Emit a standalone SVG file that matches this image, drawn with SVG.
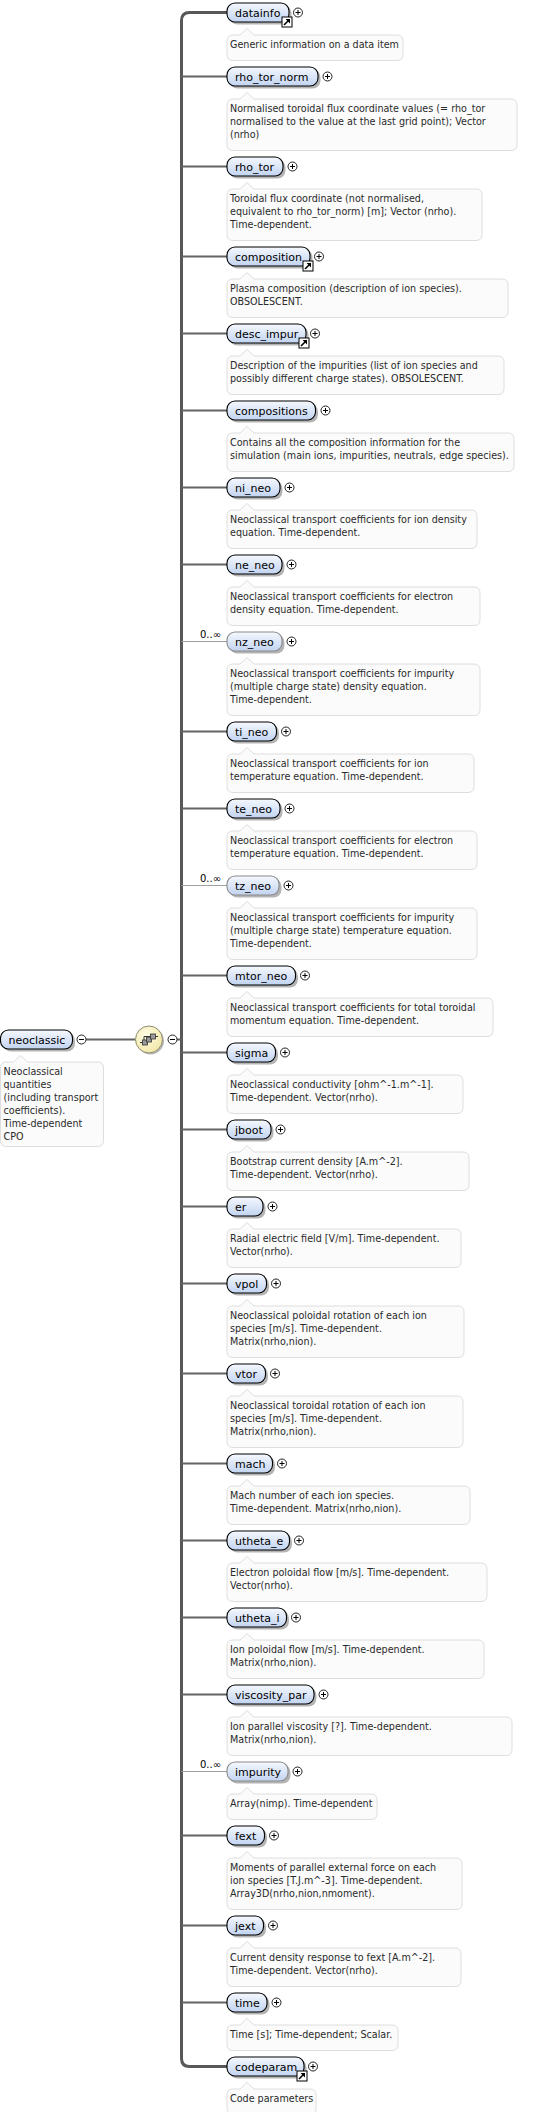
<svg xmlns="http://www.w3.org/2000/svg" width="541" height="2112" viewBox="0 0 541 2112">
<defs>
<linearGradient id="g" x1="0" y1="0" x2="0" y2="1">
<stop offset="0" stop-color="#f5f8fe"/>
<stop offset="1" stop-color="#c2d4f1"/>
</linearGradient>
<radialGradient id="yg" cx="0.4" cy="0.35" r="0.7">
<stop offset="0" stop-color="#fffde6"/>
<stop offset="1" stop-color="#f1e6a6"/>
</radialGradient>
<g id="plus"><circle r="4.5" fill="#fff" stroke="#222" stroke-width="1"/><path d="M-2.5 0H2.5M0 -2.5V2.5" stroke="#000" stroke-width="1"/></g>
<g id="minus"><circle r="4.5" fill="#fff" stroke="#222" stroke-width="1"/><path d="M-2.5 0H2.5" stroke="#000" stroke-width="1"/></g>
<g id="link"><rect x="0.5" y="0.5" width="10" height="10" fill="#fff" stroke="#000" stroke-width="1"/><path d="M2.5 8.5L7 4" stroke="#000" stroke-width="1.6"/><path d="M4 2.5H8.5V7Z" fill="#000"/></g>
</defs>
<style>
.sh{fill:#b4b4b4}
.b{fill:url(#g);stroke:#000;stroke-width:1.1}
.o .b{stroke:#8a8a8a}
.t{font-family:"DejaVu Sans",sans-serif;font-size:11px;fill:#000}
.d{fill:#fbfbfb;stroke:#dedede;stroke-width:1}
.dt{font-family:"DejaVu Sans",sans-serif;font-size:9.6px;fill:#2a2a2a}
.c{font-family:"DejaVu Sans",sans-serif;font-size:10px;fill:#000;text-anchor:end}
.tr{fill:none;stroke:#585858;stroke-width:3}
.br{fill:none;stroke:#646464;stroke-width:2}
.ob{fill:none;stroke:#a0a0a0;stroke-width:1}
</style>

<g id="connectors">
<path class="tr" d="M227 12.5H189.5Q181.5 12.5 181.5 20.5V2058.5Q181.5 2066.5 189.5 2066.5H227"/>
<path class="br" d="M181.5 76.5H227M181.5 166.5H227M181.5 256.5H227M181.5 333.5H227M181.5 410.5H227M181.5 487.5H227M181.5 564.5H227M181.5 731.5H227M181.5 808.5H227M181.5 975.5H227M181.5 1052.5H227M181.5 1129.5H227M181.5 1206.5H227M181.5 1283.5H227M181.5 1373.5H227M181.5 1463.5H227M181.5 1540.5H227M181.5 1617.5H227M181.5 1694.5H227M181.5 1835.5H227M181.5 1925.5H227M181.5 2002.5H227"/>
<path class="ob" d="M181.5 641.5H227M181.5 885.5H227M181.5 1771.5H227"/>
<text class="c" x="221" y="637.5">0..∞</text>
<text class="c" x="221" y="881.5">0..∞</text>
<text class="c" x="221" y="1767.5">0..∞</text>
<path class="br" d="M86 1039.5H135.5M177 1039.5H181.5"/>
</g>

<g id="neoclassic" transform="translate(0.5,1039.5)">
<rect class="sh" x="2.5" y="-7" width="72" height="19" rx="8"/>
<rect class="b" x="0" y="-9.5" width="72" height="19" rx="8"/>
<text class="t" x="8" y="4">neoclassic</text>
<use href="#minus" x="81" y="0"/>
<path class="d" d="M6 22.5H13L20 16L27 22.5H97Q103 22.5 103 28.5V101Q103 107 97 107H6Q0 107 0 101V28.5Q0 22.5 6 22.5Z"/>
<text class="dt" x="3"><tspan x="3" y="35">Neoclassical</tspan><tspan x="3" y="48">quantities</tspan><tspan x="3" y="61">(including transport</tspan><tspan x="3" y="74">coefficients).</tspan><tspan x="3" y="87">Time-dependent</tspan><tspan x="3" y="100">CPO</tspan></text>
</g>

<g id="sequence" transform="translate(149,1039.5)">
<circle cx="1.5" cy="1.5" r="13.5" fill="#b8b8b8"/>
<circle r="13.5" fill="url(#yg)" stroke="#8c8c70" stroke-width="1"/>
<path d="M-9 3H-5M-2 0H2M5 -3H9M-5 3V-3H5" fill="none" stroke="#333" stroke-width="1"/>
<rect x="-6.5" y="0.5" width="5" height="5" fill="#9a9a9a" stroke="#333" stroke-width="0.8"/>
<rect x="-2.5" y="-2.5" width="5" height="5" fill="#9a9a9a" stroke="#333" stroke-width="0.8"/>
<rect x="1.5" y="-5.5" width="5" height="5" fill="#9a9a9a" stroke="#333" stroke-width="0.8"/>
<use href="#minus" x="23.5" y="0"/>
</g>

<g id="datainfo" transform="translate(227,12.5)">
<rect class="sh" x="2.5" y="-7" width="62" height="19" rx="8"/>
<rect class="b" x="0" y="-9.5" width="62" height="19" rx="8"/>
<text class="t" x="8" y="4">datainfo</text>
<use href="#link" x="54.5" y="4"/>
<use href="#plus" x="71" y="0"/>
<path class="d" d="M6 22.5H13L20 16L27 22.5H170Q176 22.5 176 28.5V42Q176 48 170 48H6Q0 48 0 42V28.5Q0 22.5 6 22.5Z"/>
<text class="dt" x="3" y="35">Generic information on a data item</text>
</g>

<g id="rho_tor_norm" transform="translate(227,76.5)">
<rect class="sh" x="2.5" y="-7" width="91" height="19" rx="8"/>
<rect class="b" x="0" y="-9.5" width="91" height="19" rx="8"/>
<text class="t" x="8" y="4">rho_tor_norm</text>
<use href="#plus" x="100.5" y="0"/>
<path class="d" d="M6 22.5H13L20 16L27 22.5H284Q290 22.5 290 28.5V68Q290 74 284 74H6Q0 74 0 68V28.5Q0 22.5 6 22.5Z"/>
<text class="dt"><tspan x="3" y="35">Normalised toroidal flux coordinate values (= rho_tor</tspan><tspan x="3" y="48">normalised to the value at the last grid point); Vector</tspan><tspan x="3" y="61">(nrho)</tspan></text>
</g>

<g id="rho_tor" transform="translate(227,166.5)">
<rect class="sh" x="2.5" y="-7" width="56" height="19" rx="8"/>
<rect class="b" x="0" y="-9.5" width="56" height="19" rx="8"/>
<text class="t" x="8" y="4">rho_tor</text>
<use href="#plus" x="65.5" y="0"/>
<path class="d" d="M6 22.5H13L20 16L27 22.5H249Q255 22.5 255 28.5V68Q255 74 249 74H6Q0 74 0 68V28.5Q0 22.5 6 22.5Z"/>
<text class="dt"><tspan x="3" y="35">Toroidal flux coordinate (not normalised,</tspan><tspan x="3" y="48">equivalent to rho_tor_norm) [m]; Vector (nrho).</tspan><tspan x="3" y="61">Time-dependent.</tspan></text>
</g>

<g id="composition" transform="translate(227,256.5)">
<rect class="sh" x="2.5" y="-7" width="83" height="19" rx="8"/>
<rect class="b" x="0" y="-9.5" width="83" height="19" rx="8"/>
<text class="t" x="8" y="4">composition</text>
<use href="#link" x="75.5" y="4"/>
<use href="#plus" x="92" y="0"/>
<path class="d" d="M6 22.5H13L20 16L27 22.5H275Q281 22.5 281 28.5V55Q281 61 275 61H6Q0 61 0 55V28.5Q0 22.5 6 22.5Z"/>
<text class="dt"><tspan x="3" y="35">Plasma composition (description of ion species).</tspan><tspan x="3" y="48">OBSOLESCENT.</tspan></text>
</g>

<g id="desc_impur" transform="translate(227,333.5)">
<rect class="sh" x="2.5" y="-7" width="79" height="19" rx="8"/>
<rect class="b" x="0" y="-9.5" width="79" height="19" rx="8"/>
<text class="t" x="8" y="4">desc_impur</text>
<use href="#link" x="71.5" y="4"/>
<use href="#plus" x="88" y="0"/>
<path class="d" d="M6 22.5H13L20 16L27 22.5H271Q277 22.5 277 28.5V55Q277 61 271 61H6Q0 61 0 55V28.5Q0 22.5 6 22.5Z"/>
<text class="dt"><tspan x="3" y="35">Description of the impurities (list of ion species and</tspan><tspan x="3" y="48">possibly different charge states). OBSOLESCENT.</tspan></text>
</g>

<g id="compositions" transform="translate(227,410.5)">
<rect class="sh" x="2.5" y="-7" width="88.5" height="19" rx="8"/>
<rect class="b" x="0" y="-9.5" width="88.5" height="19" rx="8"/>
<text class="t" x="8" y="4">compositions</text>
<use href="#plus" x="98.5" y="0"/>
<path class="d" d="M6 22.5H13L20 16L27 22.5H281Q287 22.5 287 28.5V55Q287 61 281 61H6Q0 61 0 55V28.5Q0 22.5 6 22.5Z"/>
<text class="dt"><tspan x="3" y="35">Contains all the composition information for the</tspan><tspan x="3" y="48">simulation (main ions, impurities, neutrals, edge species).</tspan></text>
</g>

<g id="ni_neo" transform="translate(227,487.5)">
<rect class="sh" x="2.5" y="-7" width="53" height="19" rx="8"/>
<rect class="b" x="0" y="-9.5" width="53" height="19" rx="8"/>
<text class="t" x="8" y="4">ni_neo</text>
<use href="#plus" x="62.5" y="0"/>
<path class="d" d="M6 22.5H13L20 16L27 22.5H244Q250 22.5 250 28.5V55Q250 61 244 61H6Q0 61 0 55V28.5Q0 22.5 6 22.5Z"/>
<text class="dt"><tspan x="3" y="35">Neoclassical transport coefficients for ion density</tspan><tspan x="3" y="48">equation. Time-dependent.</tspan></text>
</g>

<g id="ne_neo" transform="translate(227,564.5)">
<rect class="sh" x="2.5" y="-7" width="55" height="19" rx="8"/>
<rect class="b" x="0" y="-9.5" width="55" height="19" rx="8"/>
<text class="t" x="8" y="4">ne_neo</text>
<use href="#plus" x="64.5" y="0"/>
<path class="d" d="M6 22.5H13L20 16L27 22.5H247Q253 22.5 253 28.5V55Q253 61 247 61H6Q0 61 0 55V28.5Q0 22.5 6 22.5Z"/>
<text class="dt"><tspan x="3" y="35">Neoclassical transport coefficients for electron</tspan><tspan x="3" y="48">density equation. Time-dependent.</tspan></text>
</g>

<g id="nz_neo" class="o" transform="translate(227,641.5)">
<rect class="sh" x="2.5" y="-7" width="55" height="19" rx="8"/>
<rect class="b" x="0" y="-9.5" width="55" height="19" rx="8"/>
<text class="t" x="8" y="4">nz_neo</text>
<use href="#plus" x="64.5" y="0"/>
<path class="d" d="M6 22.5H13L20 16L27 22.5H247Q253 22.5 253 28.5V68Q253 74 247 74H6Q0 74 0 68V28.5Q0 22.5 6 22.5Z"/>
<text class="dt"><tspan x="3" y="35">Neoclassical transport coefficients for impurity</tspan><tspan x="3" y="48">(multiple charge state) density equation.</tspan><tspan x="3" y="61">Time-dependent.</tspan></text>
</g>

<g id="ti_neo" transform="translate(227,731.5)">
<rect class="sh" x="2.5" y="-7" width="49.5" height="19" rx="8"/>
<rect class="b" x="0" y="-9.5" width="49.5" height="19" rx="8"/>
<text class="t" x="8" y="4">ti_neo</text>
<use href="#plus" x="59" y="0"/>
<path class="d" d="M6 22.5H13L20 16L27 22.5H241Q247 22.5 247 28.5V55Q247 61 241 61H6Q0 61 0 55V28.5Q0 22.5 6 22.5Z"/>
<text class="dt"><tspan x="3" y="35">Neoclassical transport coefficients for ion</tspan><tspan x="3" y="48">temperature equation. Time-dependent.</tspan></text>
</g>

<g id="te_neo" transform="translate(227,808.5)">
<rect class="sh" x="2.5" y="-7" width="53" height="19" rx="8"/>
<rect class="b" x="0" y="-9.5" width="53" height="19" rx="8"/>
<text class="t" x="8" y="4">te_neo</text>
<use href="#plus" x="62.5" y="0"/>
<path class="d" d="M6 22.5H13L20 16L27 22.5H244Q250 22.5 250 28.5V55Q250 61 244 61H6Q0 61 0 55V28.5Q0 22.5 6 22.5Z"/>
<text class="dt"><tspan x="3" y="35">Neoclassical transport coefficients for electron</tspan><tspan x="3" y="48">temperature equation. Time-dependent.</tspan></text>
</g>

<g id="tz_neo" class="o" transform="translate(227,885.5)">
<rect class="sh" x="2.5" y="-7" width="52" height="19" rx="8"/>
<rect class="b" x="0" y="-9.5" width="52" height="19" rx="8"/>
<text class="t" x="8" y="4">tz_neo</text>
<use href="#plus" x="61.5" y="0"/>
<path class="d" d="M6 22.5H13L20 16L27 22.5H244Q250 22.5 250 28.5V68Q250 74 244 74H6Q0 74 0 68V28.5Q0 22.5 6 22.5Z"/>
<text class="dt"><tspan x="3" y="35">Neoclassical transport coefficients for impurity</tspan><tspan x="3" y="48">(multiple charge state) temperature equation.</tspan><tspan x="3" y="61">Time-dependent.</tspan></text>
</g>

<g id="mtor_neo" transform="translate(227,975.5)">
<rect class="sh" x="2.5" y="-7" width="68.5" height="19" rx="8"/>
<rect class="b" x="0" y="-9.5" width="68.5" height="19" rx="8"/>
<text class="t" x="8" y="4">mtor_neo</text>
<use href="#plus" x="78" y="0"/>
<path class="d" d="M6 22.5H13L20 16L27 22.5H260Q266 22.5 266 28.5V55Q266 61 260 61H6Q0 61 0 55V28.5Q0 22.5 6 22.5Z"/>
<text class="dt"><tspan x="3" y="35">Neoclassical transport coefficients for total toroidal</tspan><tspan x="3" y="48">momentum equation. Time-dependent.</tspan></text>
</g>

<g id="sigma" transform="translate(227,1052.5)">
<rect class="sh" x="2.5" y="-7" width="48.5" height="19" rx="8"/>
<rect class="b" x="0" y="-9.5" width="48.5" height="19" rx="8"/>
<text class="t" x="8" y="4">sigma</text>
<use href="#plus" x="58" y="0"/>
<path class="d" d="M6 22.5H13L20 16L27 22.5H230Q236 22.5 236 28.5V55Q236 61 230 61H6Q0 61 0 55V28.5Q0 22.5 6 22.5Z"/>
<text class="dt"><tspan x="3" y="35">Neoclassical conductivity [ohm^-1.m^-1].</tspan><tspan x="3" y="48">Time-dependent. Vector(nrho).</tspan></text>
</g>

<g id="jboot" transform="translate(227,1129.5)">
<rect class="sh" x="2.5" y="-7" width="44" height="19" rx="8"/>
<rect class="b" x="0" y="-9.5" width="44" height="19" rx="8"/>
<text class="t" x="8" y="4">jboot</text>
<use href="#plus" x="53.5" y="0"/>
<path class="d" d="M6 22.5H13L20 16L27 22.5H236Q242 22.5 242 28.5V55Q242 61 236 61H6Q0 61 0 55V28.5Q0 22.5 6 22.5Z"/>
<text class="dt"><tspan x="3" y="35">Bootstrap current density [A.m^-2].</tspan><tspan x="3" y="48">Time-dependent. Vector(nrho).</tspan></text>
</g>

<g id="er" transform="translate(227,1206.5)">
<rect class="sh" x="2.5" y="-7" width="36" height="19" rx="8"/>
<rect class="b" x="0" y="-9.5" width="36" height="19" rx="8"/>
<text class="t" x="8" y="4">er</text>
<use href="#plus" x="45.5" y="0"/>
<path class="d" d="M6 22.5H13L20 16L27 22.5H228Q234 22.5 234 28.5V55Q234 61 228 61H6Q0 61 0 55V28.5Q0 22.5 6 22.5Z"/>
<text class="dt"><tspan x="3" y="35">Radial electric field [V/m]. Time-dependent.</tspan><tspan x="3" y="48">Vector(nrho).</tspan></text>
</g>

<g id="vpol" transform="translate(227,1283.5)">
<rect class="sh" x="2.5" y="-7" width="39.5" height="19" rx="8"/>
<rect class="b" x="0" y="-9.5" width="39.5" height="19" rx="8"/>
<text class="t" x="8" y="4">vpol</text>
<use href="#plus" x="49" y="0"/>
<path class="d" d="M6 22.5H13L20 16L27 22.5H231Q237 22.5 237 28.5V68Q237 74 231 74H6Q0 74 0 68V28.5Q0 22.5 6 22.5Z"/>
<text class="dt"><tspan x="3" y="35">Neoclassical poloidal rotation of each ion</tspan><tspan x="3" y="48">species [m/s]. Time-dependent.</tspan><tspan x="3" y="61">Matrix(nrho,nion).</tspan></text>
</g>

<g id="vtor" transform="translate(227,1373.5)">
<rect class="sh" x="2.5" y="-7" width="38.5" height="19" rx="8"/>
<rect class="b" x="0" y="-9.5" width="38.5" height="19" rx="8"/>
<text class="t" x="8" y="4">vtor</text>
<use href="#plus" x="48" y="0"/>
<path class="d" d="M6 22.5H13L20 16L27 22.5H230Q236 22.5 236 28.5V68Q236 74 230 74H6Q0 74 0 68V28.5Q0 22.5 6 22.5Z"/>
<text class="dt"><tspan x="3" y="35">Neoclassical toroidal rotation of each ion</tspan><tspan x="3" y="48">species [m/s]. Time-dependent.</tspan><tspan x="3" y="61">Matrix(nrho,nion).</tspan></text>
</g>

<g id="mach" transform="translate(227,1463.5)">
<rect class="sh" x="2.5" y="-7" width="45.5" height="19" rx="8"/>
<rect class="b" x="0" y="-9.5" width="45.5" height="19" rx="8"/>
<text class="t" x="8" y="4">mach</text>
<use href="#plus" x="55" y="0"/>
<path class="d" d="M6 22.5H13L20 16L27 22.5H237Q243 22.5 243 28.5V55Q243 61 237 61H6Q0 61 0 55V28.5Q0 22.5 6 22.5Z"/>
<text class="dt"><tspan x="3" y="35">Mach number of each ion species.</tspan><tspan x="3" y="48">Time-dependent. Matrix(nrho,nion).</tspan></text>
</g>

<g id="utheta_e" transform="translate(227,1540.5)">
<rect class="sh" x="2.5" y="-7" width="62.5" height="19" rx="8"/>
<rect class="b" x="0" y="-9.5" width="62.5" height="19" rx="8"/>
<text class="t" x="8" y="4">utheta_e</text>
<use href="#plus" x="72" y="0"/>
<path class="d" d="M6 22.5H13L20 16L27 22.5H254Q260 22.5 260 28.5V55Q260 61 254 61H6Q0 61 0 55V28.5Q0 22.5 6 22.5Z"/>
<text class="dt"><tspan x="3" y="35">Electron poloidal flow [m/s]. Time-dependent.</tspan><tspan x="3" y="48">Vector(nrho).</tspan></text>
</g>

<g id="utheta_i" transform="translate(227,1617.5)">
<rect class="sh" x="2.5" y="-7" width="59.5" height="19" rx="8"/>
<rect class="b" x="0" y="-9.5" width="59.5" height="19" rx="8"/>
<text class="t" x="8" y="4">utheta_i</text>
<use href="#plus" x="69" y="0"/>
<path class="d" d="M6 22.5H13L20 16L27 22.5H251Q257 22.5 257 28.5V55Q257 61 251 61H6Q0 61 0 55V28.5Q0 22.5 6 22.5Z"/>
<text class="dt"><tspan x="3" y="35">Ion poloidal flow [m/s]. Time-dependent.</tspan><tspan x="3" y="48">Matrix(nrho,nion).</tspan></text>
</g>

<g id="viscosity_par" transform="translate(227,1694.5)">
<rect class="sh" x="2.5" y="-7" width="87" height="19" rx="8"/>
<rect class="b" x="0" y="-9.5" width="87" height="19" rx="8"/>
<text class="t" x="8" y="4">viscosity_par</text>
<use href="#plus" x="96.5" y="0"/>
<path class="d" d="M6 22.5H13L20 16L27 22.5H279Q285 22.5 285 28.5V55Q285 61 279 61H6Q0 61 0 55V28.5Q0 22.5 6 22.5Z"/>
<text class="dt"><tspan x="3" y="35">Ion parallel viscosity [?]. Time-dependent.</tspan><tspan x="3" y="48">Matrix(nrho,nion).</tspan></text>
</g>

<g id="impurity" class="o" transform="translate(227,1771.5)">
<rect class="sh" x="2.5" y="-7" width="61" height="19" rx="8"/>
<rect class="b" x="0" y="-9.5" width="61" height="19" rx="8"/>
<text class="t" x="8" y="4">impurity</text>
<use href="#plus" x="70.5" y="0"/>
<path class="d" d="M6 22.5H13L20 16L27 22.5H144Q150 22.5 150 28.5V42Q150 48 144 48H6Q0 48 0 42V28.5Q0 22.5 6 22.5Z"/>
<text class="dt" x="3" y="35">Array(nimp). Time-dependent</text>
</g>

<g id="fext" transform="translate(227,1835.5)">
<rect class="sh" x="2.5" y="-7" width="37.5" height="19" rx="8"/>
<rect class="b" x="0" y="-9.5" width="37.5" height="19" rx="8"/>
<text class="t" x="8" y="4">fext</text>
<use href="#plus" x="47" y="0"/>
<path class="d" d="M6 22.5H13L20 16L27 22.5H229Q235 22.5 235 28.5V68Q235 74 229 74H6Q0 74 0 68V28.5Q0 22.5 6 22.5Z"/>
<text class="dt"><tspan x="3" y="35">Moments of parallel external force on each</tspan><tspan x="3" y="48">ion species [T.J.m^-3]. Time-dependent.</tspan><tspan x="3" y="61">Array3D(nrho,nion,nmoment).</tspan></text>
</g>

<g id="jext" transform="translate(227,1925.5)">
<rect class="sh" x="2.5" y="-7" width="36.5" height="19" rx="8"/>
<rect class="b" x="0" y="-9.5" width="36.5" height="19" rx="8"/>
<text class="t" x="8" y="4">jext</text>
<use href="#plus" x="46" y="0"/>
<path class="d" d="M6 22.5H13L20 16L27 22.5H228Q234 22.5 234 28.5V55Q234 61 228 61H6Q0 61 0 55V28.5Q0 22.5 6 22.5Z"/>
<text class="dt"><tspan x="3" y="35">Current density response to fext [A.m^-2].</tspan><tspan x="3" y="48">Time-dependent. Vector(nrho).</tspan></text>
</g>

<g id="time" transform="translate(227,2002.5)">
<rect class="sh" x="2.5" y="-7" width="40" height="19" rx="8"/>
<rect class="b" x="0" y="-9.5" width="40" height="19" rx="8"/>
<text class="t" x="8" y="4">time</text>
<use href="#plus" x="49.5" y="0"/>
<path class="d" d="M6 22.5H13L20 16L27 22.5H165Q171 22.5 171 28.5V42Q171 48 165 48H6Q0 48 0 42V28.5Q0 22.5 6 22.5Z"/>
<text class="dt" x="3" y="35">Time [s]; Time-dependent; Scalar.</text>
</g>

<g id="codeparam" transform="translate(227,2066.5)">
<rect class="sh" x="2.5" y="-7" width="77" height="19" rx="8"/>
<rect class="b" x="0" y="-9.5" width="77" height="19" rx="8"/>
<text class="t" x="8" y="4">codeparam</text>
<use href="#link" x="69.5" y="4"/>
<use href="#plus" x="86" y="0"/>
<path class="d" d="M6 22.5H13L20 16L27 22.5H83Q89 22.5 89 28.5V42Q89 48 83 48H6Q0 48 0 42V28.5Q0 22.5 6 22.5Z"/>
<text class="dt" x="3" y="35">Code parameters</text>
</g>
</svg>
